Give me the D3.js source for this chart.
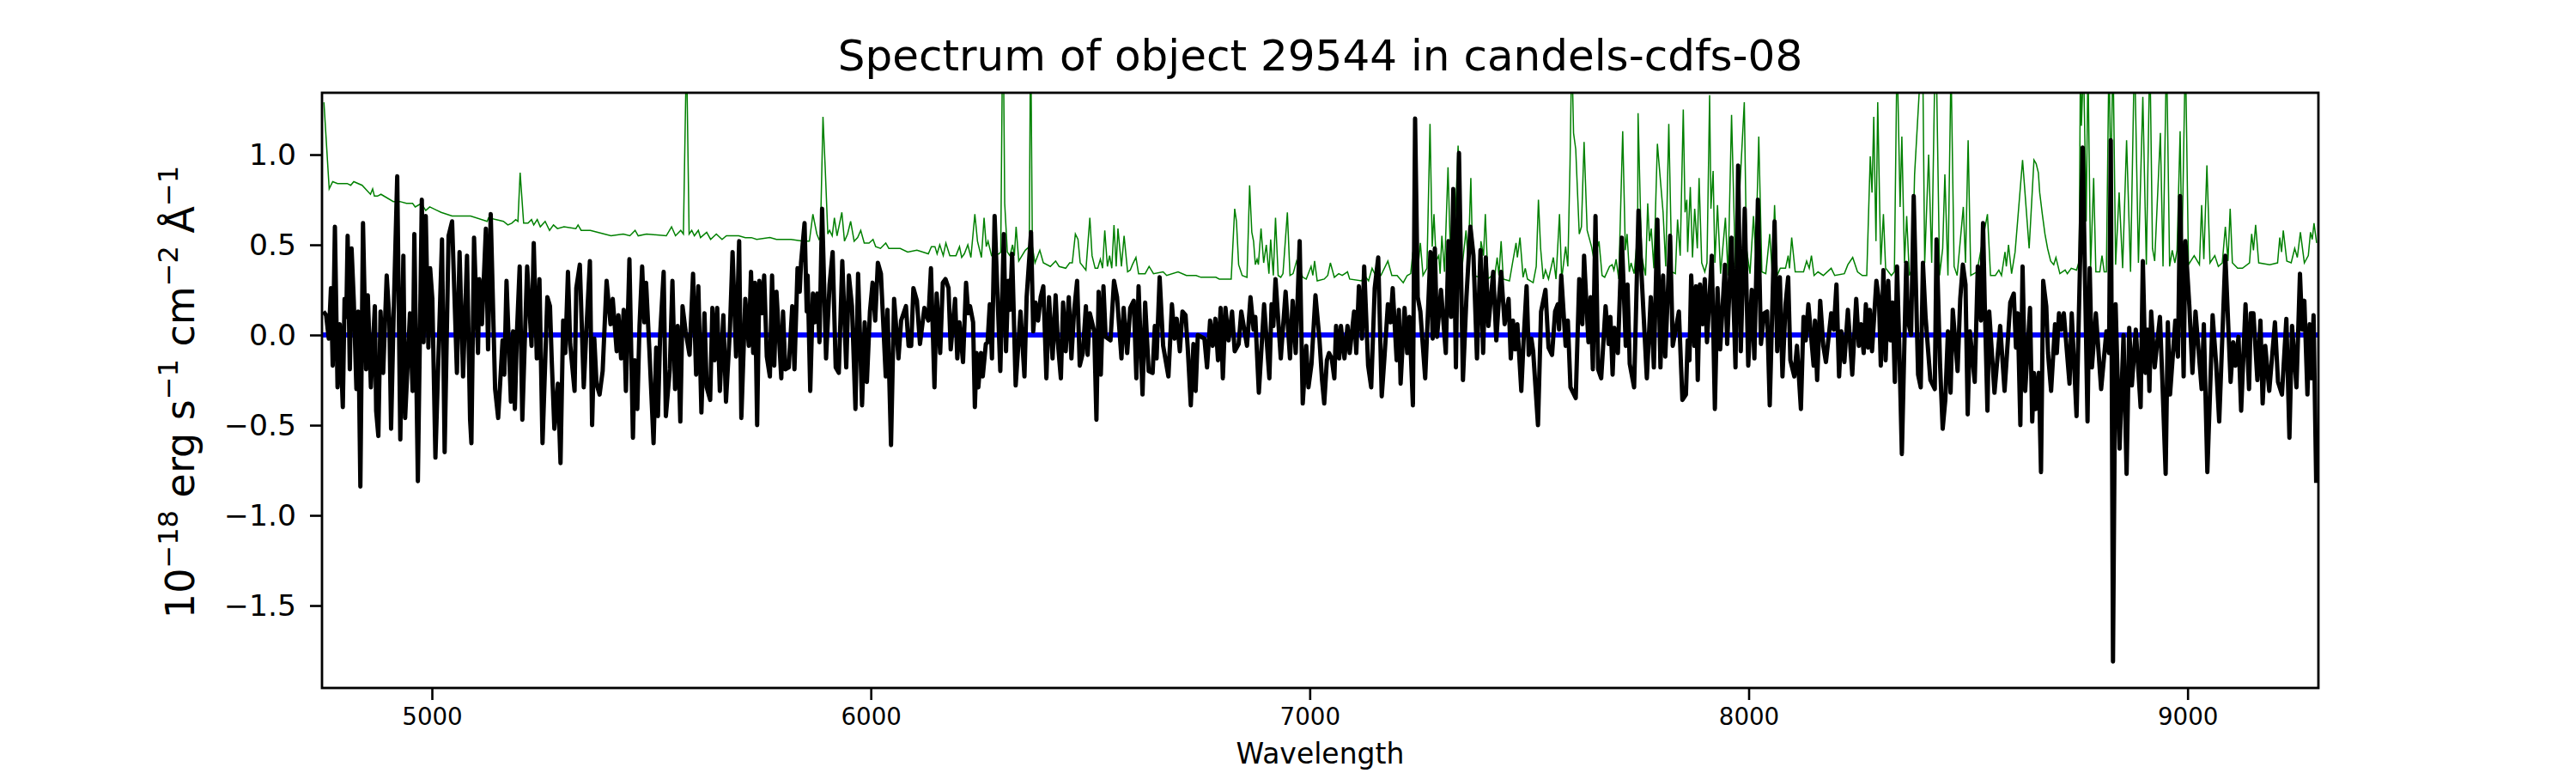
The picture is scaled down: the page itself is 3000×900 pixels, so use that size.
<!DOCTYPE html>
<html>
<head>
<meta charset="utf-8">
<script src="https://cdn.jsdelivr.net/npm/d3@7"></script>
<style>
  html, body { margin: 0; background: #fff; overflow: hidden; }
  text { font-family: "DejaVu Sans", sans-serif; fill: #000; }
</style>
</head>
<body>
<svg width="3000" height="900"></svg>
<script>
/* Data: [wavelength, flux] */
const xTicks = [5000, 6000, 7000, 8000, 9000];
const yTicks = [1.0, 0.5, 0.0, -0.5, -1.0, -1.5];
const xDomain = [4749.6, 9298];
const yDomain = [-1.957, 1.343];
const titleText = 'Spectrum of object 29544 in candels-cdfs-08';
const xLabelText = 'Wavelength';

const zeroPoints = [[4750, 0], [9298, 0]];

const fluxPoints = [
  [4753,.13],[4759,.11],[4765,-.02],[4770,.26],[4774,-.17],[4779,.60],[4785,-.29],[4790,.06],[4797,-.40],[4801,.20],[4805,.10],[4808,.55],[4813,-.19],[4817,.48],[4822,.19],[4828,-.30],[4832,.13],[4837,-.84],[4843,.62],[4850,-.19],[4854,.22],[4861,-.29],[4870,.16],[4873,-.42],[4878,-.56],[4883,.13],[4889,-.21],[4897,.33],[4903,.09],[4907,-.52],[4913,.13],[4921,.88],[4928,-.58],[4935,.44],[4939,-.46],[4950,.12],[4956,-.31],[4960,.56],[4968,-.81],[4977,.75],[4981,-.04],[4986,.66],[4992,-.07],[4996,.37],
  [5001,.20],[5008,-.68],[5023,.53],[5029,-.65],[5038,.55],[5046,.63],[5057,-.21],[5063,.46],[5071,-.23],[5080,.44],[5087,-.47],[5090,-.60],[5096,.54],[5105,-.10],[5108,.31],[5114,.06],[5123,.59],[5128,-.08],[5134,.67],[5144,-.30],[5151,-.46],[5161,-.03],[5165,-.22],[5170,.30],[5180,-.37],[5185,.02],[5189,-.41],[5194,.03],[5200,.38],[5206,-.47],[5217,.38],[5227,-.06],[5232,.51],[5239,-.13],[5245,.31],[5252,-.60],[5263,.21],[5269,.16],[5273,-.14],[5279,-.52],[5287,-.27],[5293,-.71],[5299,.08],[5304,-.10],[5310,.35],[5315,-.05],[5325,-.31],[5329,.26],[5337,.39],[5346,-.29],[5352,.03],[5360,.41],[5365,-.50],[5370,-.02],[5375,-.27],[5382,-.33],[5389,-.20],[5398,.30],[5407,.06],[5412,.20],[5421,-.09],[5425,.11],[5431,-.13],[5437,.14],[5442,-.31],[5450,.42],[5458,-.57],[5462,-.14],[5468,-.41],[5473,.05],[5479,.38],[5484,.07],[5488,.29],[5496,-.11],
  [5505,-.60],[5511,-.07],[5515,-.45],[5520,0],[5528,.35],[5533,-.45],[5542,-.19],[5548,.30],[5554,-.30],[5560,.05],[5566,-.48],[5571,.16],[5578,.02],[5587,-.11],[5595,.34],[5602,-.22],[5607,.27],[5614,-.43],[5621,.12],[5626,-.29],[5634,-.36],[5639,.15],[5644,-.14],[5650,.15],[5656,-.31],[5664,.11],[5670,-.37],[5679,.03],[5685,.46],[5693,-.12],[5700,.52],[5705,-.46],[5714,.20],[5722,-.06],[5727,.35],[5732,-.10],[5736,.29],[5741,-.50],[5746,.30],[5752,.12],[5757,.33],[5763,-.12],[5770,-.23],[5775,.33],[5780,-.17],[5785,.24],[5796,-.24],[5800,.13],[5805,-.19],[5813,-.18],[5821,.16],[5826,-.19],[5833,.37],[5838,.24],[5841,.40],[5849,.62],[5854,.13],[5856,.33],[5862,-.31],[5868,.23],[5872,.07],[5878,.23],[5883,-.04],[5889,.70],[5898,-.13],[5906,.28],[5913,.46],
  [5920,-.18],[5927,-.21],[5935,.41],[5944,-.18],[5950,.33],[5957,.16],[5965,-.41],[5971,.34],[5980,-.39],[5986,.07],[5991,-.26],[5998,.13],[6004,.29],[6010,.08],[6016,.40],[6023,.34],[6028,.08],[6034,-.23],[6038,.14],[6046,-.61],[6053,.20],[6063,-.13],[6069,.08],[6080,.16],[6086,-.06],[6092,-.06],[6097,.26],[6105,.19],[6112,-.05],[6122,.15],[6131,.08],[6137,.37],[6145,-.29],[6150,.23],[6158,-.10],[6164,.29],[6170,.31],[6177,.26],[6182,-.08],[6192,.20],[6197,-.13],[6202,.07],[6210,-.15],[6217,.29],[6222,.12],[6226,.16],[6233,.07],[6237,-.40],[6241,-.10],[6245,-.29],[6251,-.10],[6255,-.23],[6262,-.05],[6266,-.04],[6271,.17],[6276,-.13],[6282,.66],[6295,-.20],[6303,.56],[6308,-.09],[6313,.30],[6317,.14],[6322,.45],[6330,-.28],[6341,.13],[6350,-.23],[6355,.21],[6365,.57],[6370,.02],[6375,.18],[6381,.08],[6387,.21],[6393,.27],
  [6400,-.24],[6406,.21],[6414,-.13],[6421,.22],[6426,-.04],[6433,-.24],[6438,.18],[6444,-.09],[6451,.21],[6457,-.13],[6463,.13],[6470,.30],[6476,-.17],[6483,-.10],[6490,.16],[6494,-.11],[6499,.12],[6509,.02],[6514,-.47],[6519,.24],[6524,-.22],[6530,.27],[6535,-.01],[6546,-.03],[6554,.30],[6561,.21],[6571,-.13],[6576,.15],[6584,-.10],[6591,.15],[6599,.19],[6605,-.24],[6610,.27],[6619,-.33],[6625,.18],[6633,-.20],[6642,-.21],[6647,.05],[6651,-.13],[6658,.32],[6666,-.06],[6678,-.23],[6686,.17],[6692,-.02],[6697,.09],[6704,-.09],[6710,.13],[6717,.11],[6722,-.07],[6729,-.39],[6735,-.05],[6740,-.31],[6745,0],[6760,-.02],[6766,-.18],[6773,.08],[6779,-.06],[6785,.09],[6791,-.14],[6797,.15],[6802,-.24],[6808,.15],[6815,-.03],[6823,.13],[6829,-.09],[6838,-.05],[6844,.13],[6857,-.06],[6865,.21],[6872,.03],[6876,.10],[6884,-.32],[6896,.17],[6908,-.24],[6913,.17],[6917,.05],[6922,.31],[6934,-.13],[6945,.24],[6955,-.13],[6961,.19],[6968,-.10],[6977,.52],[6984,-.38],[6992,-.06],[6997,-.29],
  [7004,-.16],[7013,.22],[7022,-.02],[7028,-.25],[7033,-.38],[7039,-.14],[7044,-.10],[7050,-.13],[7056,-.24],[7060,.05],[7067,-.13],[7071,.05],[7079,-.13],[7086,.05],[7091,-.10],[7101,.13],[7106,-.10],[7112,.27],[7119,-.02],[7124,.38],[7133,-.17],[7140,-.29],[7148,.26],[7156,.43],[7164,-.34],[7170,-.13],[7178,.17],[7184,.07],[7189,.26],[7198,-.14],[7203,.14],[7207,-.27],[7216,.15],[7222,-.10],[7227,.10],[7235,-.39],[7240,1.20],[7246,.21],[7252,.13],[7263,-.24],[7275,.46],[7280,-.02],[7285,.48],[7290,-.01],[7299,.25],[7310,-.10],[7316,.52],[7322,.10],[7327,.81],[7333,-.18],[7340,1.01],[7349,-.25],[7357,.21],[7366,.60],[7373,.44],[7381,-.13],[7389,.47],[7395,-.10],[7401,.43],[7407,.05],[7418,.35],[7425,-.03],[7431,.20],[7436,.35],[7444,.06],[7453,.20],[7458,-.13],[7463,.08],[7468,-.08],[7473,.06],[7482,-.31],[7487,-.04],[7494,.27],[7499,-.11],
  [7505,-.02],[7509,-.09],[7520,-.50],[7527,.13],[7537,.25],[7544,-.07],[7552,-.11],[7559,.13],[7565,.17],[7568,.03],[7573,.33],[7583,-.06],[7588,.08],[7594,-.29],[7606,-.35],[7614,.31],[7621,.06],[7625,.44],[7630,.19],[7635,-.04],[7640,.21],[7645,-.19],[7651,.66],[7657,-.19],[7664,-.24],[7674,.16],[7681,-.05],[7685,.10],[7690,-.22],[7694,.04],[7702,-.10],[7711,.54],[7720,-.06],[7724,.28],[7729,-.16],[7739,-.29],[7749,.69],[7756,.33],[7768,-.24],[7777,.21],[7784,-.18],[7792,.64],[7799,-.18],[7805,.33],[7810,-.12],[7821,.55],[7827,-.06],[7841,.13],[7849,-.36],[7857,-.33],[7861,-.03],[7865,-.14],[7869,.33],[7876,-.06],[7880,.27],[7884,-.25],[7889,.28],[7895,.06],[7900,.31],[7905,-.04],[7916,.44],[7923,-.41],[7929,.26],[7935,-.08],[7946,.39],[7951,-.05],[7961,.54],[7970,-.18],[7976,.94],[7982,-.09],[7991,.70],[7999,-.17],
  [8007,.25],[8013,-.13],[8021,.75],[8028,-.05],[8035,.12],[8042,.13],[8048,-.39],[8059,.63],[8065,-.09],[8071,.32],[8077,-.23],[8084,.17],[8090,.32],[8095,-.14],[8104,-.23],[8110,-.06],[8119,-.41],[8125,.10],[8130,-.03],[8136,.17],[8148,-.17],[8151,.08],[8156,-.25],[8163,.19],[8170,-.06],[8176,-.15],[8188,.12],[8194,.03],[8200,.28],[8206,-.23],[8211,.02],[8218,-.15],[8226,.14],[8236,-.22],[8245,.20],[8251,-.06],[8256,.06],[8262,-.10],[8267,.17],[8272,-.07],[8276,.14],[8281,-.09],[8291,.30],[8297,.19],[8301,-.17],[8307,.36],[8312,-.14],[8318,.30],[8323,-.03],[8328,.18],[8333,-.26],[8338,.38],[8343,-.05],[8349,-.66],[8359,.40],[8363,.08],[8370,0],[8376,.77],[8386,-.22],[8392,-.29],[8397,.40],[8403,.10],[8414,-.25],[8424,-.30],[8428,.53],[8436,-.16],[8442,-.52],[8448,-.36],[8454,.02],[8460,-.32],[8465,.14],[8476,-.20],[8482,.20],[8488,.39],[8494,.28],[8499,-.44],
  [8504,.02],[8515,-.26],[8522,.38],[8529,.08],[8534,.62],[8538,.16],[8544,-.42],[8548,.13],[8560,-.32],[8573,.05],[8583,-.31],[8596,.18],[8604,.23],[8609,-.07],[8613,.12],[8619,-.50],[8624,.38],[8630,-.31],[8641,.15],[8646,-.48],[8650,-.21],[8654,-.41],[8661,-.21],[8666,-.76],[8671,.30],[8678,.16],[8682,-.10],[8689,-.31],[8698,.06],[8702,-.10],[8707,.12],[8712,.03],[8718,.12],[8731,-.27],[8736,.12],[8747,-.45],[8761,1.04],[8772,-.48],[8777,.37],[8782,-.18],[8791,.12],[8803,-.30],[8815,.02],[8821,-.10],[8825,1.08],[8830,-1.81],[8836,.17],[8845,-.63],[8854,0],[8861,-.77],[8867,.04],[8873,-.28],[8882,.03],[8893,-.40],[8898,.41],[8904,-.21],[8909,.03],[8913,-.31],[8917,.13],[8925,-.18],[8937,.10],[8942,-.22],[8950,-.77],[8955,.07],[8960,-.33],[8972,.08],[8978,-.12],[8983,.77],[8991,-.23],[8995,.52],
  [9004,.16],[9011,-.21],[9018,.13],[9032,-.30],[9037,.06],[9045,-.76],[9057,.11],[9065,-.16],[9072,-.48],[9086,.44],[9098,-.26],[9104,-.04],[9109,-.17],[9116,-.01],[9122,-.42],[9132,.17],[9140,-.30],[9144,.12],[9150,.12],[9159,-.25],[9166,.08],[9171,-.38],[9177,-.06],[9186,-.31],[9199,.07],[9206,-.26],[9215,-.33],[9225,.09],[9232,-.57],[9238,.05],[9248,-.29],[9256,.34],[9261,.03],[9266,.19],[9273,-.33],[9278,.06],[9282,-.24],[9287,.11],[9293,-.82]
];

const errorPoints = [
  [4754,1.29],[4766,.81],[4774,.85],[4785,.84],[4796,.84],[4807,.84],[4815,.83],[4822,.85],[4841,.83],[4860,.78],[4865,.81],[4869,.77],[4876,.77],[4884,.78],[4912,.74],[4927,.74],[4942,.73],[4956,.73],[4962,.71],[4976,.73],[4986,.69],[4995,.71],
  [5021,.68],[5046,.66],[5069,.66],[5088,.66],[5126,.63],[5129,.65],[5163,.63],[5173,.61],[5182,.62],[5191,.64],[5196,.63],[5201,.90],[5209,.62],[5219,.62],[5227,.64],[5232,.61],[5240,.64],[5247,.60],[5258,.63],[5268,.58],[5277,.61],[5286,.59],[5301,.60],[5328,.59],[5333,.61],[5340,.58],[5361,.58],[5376,.57],[5408,.55],[5436,.56],[5451,.55],[5463,.58],[5470,.55],[5489,.56],
  [5534,.55],[5546,.60],[5555,.55],[5567,.58],[5573,.56],[5580,1.59],[5586,.56],[5592,.58],[5598,.55],[5607,.58],[5612,.54],[5626,.57],[5635,.53],[5648,.56],[5661,.53],[5671,.55],[5699,.55],[5714,.54],[5728,.54],[5740,.53],[5770,.54],[5785,.53],[5792,.53],[5818,.53],[5845,.52],[5860,.52],[5868,.67],[5877,.56],[5882,.53],[5885,.54],[5891,1.21],[5896,.93],[5902,.56],[5906,.58],[5912,.55],
  [5917,.65],[5923,.55],[5934,.68],[5940,.52],[5947,.56],[5954,.63],[5962,.52],[5970,.54],[5977,.58],[5985,.51],[5996,.51],[6005,.53],[6011,.49],[6022,.48],[6034,.51],[6041,.48],[6056,.48],[6067,.48],[6084,.46],[6105,.47],[6131,.45],[6138,.49],[6146,.49],[6151,.45],[6157,.50],[6165,.44],[6171,.51],[6180,.44],[6194,.44],[6202,.49],[6207,.43],[6213,.45],[6221,.50],[6228,.43],[6237,.67],[6243,.52],[6252,.43],[6258,.65],[6263,.49],[6267,.52],[6275,.44],[6292,.45],[6296,.46],[6301,1.9],[6305,.73],[6311,.46],[6317,.44],[6323,.50],[6327,.44],[6331,.60],[6337,.41],[6352,.47],[6361,.49],[6364,1.75],[6368,.49],[6374,.40],[6385,.47],[6393,.40],
  [6409,.38],[6421,.41],[6429,.38],[6444,.37],[6453,.40],[6459,.40],[6466,.56],[6472,.53],[6477,.40],[6490,.36],[6499,.65],[6504,.44],[6511,.37],[6517,.37],[6523,.42],[6528,.37],[6533,.58],[6539,.38],[6544,.44],[6549,.37],[6554,.61],[6559,.38],[6563,.59],[6571,.38],[6577,.55],[6585,.35],[6591,.36],[6596,.39],[6604,.43],[6610,.34],[6625,.34],[6634,.38],[6644,.34],[6666,.35],[6674,.33],[6700,.35],[6719,.33],[6741,.33],[6752,.32],[6786,.32],[6794,.31],[6821,.31],[6829,.70],[6833,.63],[6838,.39],[6846,.33],[6857,.32],[6863,.83],[6868,.57],[6872,.52],[6876,.39],[6880,.42],[6883,.39],[6889,.59],[6895,.40],[6901,.50],[6907,.34],[6911,.53],[6917,.33],[6922,.65],[6928,.33],[6934,.32],[6939,.34],[6949,.68],[6955,.33],[6962,.34],[6970,.41],[6984,.32],[6992,.31],
  [7003,.38],[7007,.33],[7011,.41],[7017,.30],[7033,.31],[7041,.33],[7047,.40],[7056,.32],[7066,.34],[7074,.33],[7086,.35],[7091,.31],[7118,.30],[7125,.33],[7134,.30],[7142,.37],[7150,.33],[7162,.33],[7178,.41],[7187,.33],[7199,.33],[7213,.29],[7222,.33],[7230,.34],[7235,.46],[7245,.33],[7252,.51],[7258,.33],[7267,.37],[7274,1.17],[7279,.49],[7283,.67],[7288,.41],[7294,.44],[7297,.34],[7301,.55],[7307,.35],[7315,.93],[7321,.40],[7327,.35],[7338,1.05],[7346,.35],[7356,.58],[7361,.40],[7367,.87],[7372,.33],[7387,.32],[7390,.52],[7396,.44],[7400,.67],[7406,.31],[7415,.33],[7421,.32],[7427,.43],[7431,.33],[7436,.52],[7441,.31],[7455,.30],[7462,.40],[7470,.51],[7473,.43],[7479,.54],[7486,.32],[7491,.37],[7496,.31],
  [7509,.29],[7516,.38],[7521,.75],[7526,.48],[7532,.31],[7537,.36],[7544,.31],[7555,.43],[7561,.31],[7569,.67],[7574,.31],[7583,.49],[7588,.38],[7593,.95],[7597,1.59],[7601,1.12],[7606,1.03],[7614,.56],[7619,.60],[7625,1.07],[7632,.58],[7642,.49],[7648,.41],[7659,.52],[7666,.33],[7672,.32],[7683,.38],[7689,.39],[7693,.36],[7698,.42],[7704,.31],[7713,1.13],[7719,.47],[7723,.56],[7728,.35],[7732,.40],[7739,.34],[7747,.56],[7748,1.23],[7756,.44],[7765,.33],[7770,.73],[7774,.52],[7778,.59],[7784,.37],[7792,1.06],[7805,.68],[7811,.38],[7818,1.17],[7825,.35],[7833,.34],[7838,.64],[7844,.44],[7851,1.25],[7855,.68],[7859,.75],[7861,.46],[7867,.82],[7872,.43],[7877,.70],[7883,.48],[7887,.87],[7893,.40],[7900,.35],[7905,.40],[7911,1.33],[7914,.70],[7919,.91],[7923,.40],[7929,.72],[7936,.34],[7947,.65],[7953,.33],[7961,1.22],[7970,.35],[7990,1.29],[7995,.48],
  [8003,.34],[8011,.66],[8016,.44],[8023,1.10],[8030,.35],[8039,.34],[8048,.56],[8054,.33],[8059,.72],[8065,.33],[8072,.37],[8084,.37],[8090,.44],[8093,.37],[8098,.54],[8106,.35],[8125,.35],[8132,.41],[8138,.37],[8143,.44],[8149,.33],[8158,.35],[8170,.33],[8188,.37],[8196,.33],[8218,.34],[8226,.39],[8237,.43],[8248,.35],[8259,.33],[8269,.33],[8277,.99],[8281,.79],[8285,1.21],[8290,.52],[8294,1.29],[8301,.39],[8307,.67],[8312,.37],[8325,.33],[8332,.35],[8338,1.59],[8345,.71],[8349,1.10],[8355,.40],[8360,.66],[8366,.33],[8373,.37],[8378,.89],[8396,1.67],[8401,.40],[8410,1.00],[8417,.40],[8426,1.75],[8435,.33],[8442,.48],[8447,.89],[8454,.33],[8461,1.51],[8468,.38],[8475,.33],[8489,.71],[8494,.40],
  [8500,1.08],[8506,.33],[8520,.35],[8544,.67],[8551,.33],[8562,.33],[8570,.36],[8576,.33],[8584,.46],[8587,.38],[8592,.50],[8599,.34],[8607,.46],[8624,.97],[8639,.48],[8650,.97],[8655,.95],[8660,.90],[8663,.79],[8669,.67],[8675,.56],[8681,.48],[8688,.41],[8695,.39],[8700,.43],[8709,.34],[8721,.36],[8726,.34],[8735,.37],[8747,.36],[8753,.41],[8756,1.59],[8758,1.16],[8763,1.51],[8769,.63],[8773,1.51],[8779,.37],[8786,.87],[8791,.35],[8800,.35],[8805,.44],[8810,.35],[8815,.35],[8821,1.59],[8825,.79],[8830,1.59],[8836,.39],[8844,.79],[8852,.37],[8861,1.08],[8870,.35],[8879,1.59],[8888,.40],[8898,1.32],[8906,.39],[8914,1.59],[8920,.48],[8925,.41],[8938,1.12],[8944,.38],[8952,1.59],[8959,.38],[8965,.47],[8971,.40],[8976,.47],[8983,1.13],[8987,.44],[8995,1.59],
  [9002,.39],[9015,.44],[9027,.39],[9032,.72],[9037,.42],[9044,.94],[9051,.40],[9062,.44],[9070,.38],[9079,.40],[9086,.60],[9092,.41],[9097,.70],[9102,.40],[9114,.37],[9125,.37],[9141,.40],[9146,.56],[9150,.47],[9155,.61],[9162,.40],[9187,.39],[9205,.40],[9210,.54],[9214,.46],[9218,.58],[9226,.41],[9236,.40],[9244,.48],[9250,.43],[9257,.57],[9266,.40],[9275,.44],[9280,.57],[9284,.53],[9288,.62],[9294,.51]
];

/* SVG */
const svg = d3.select('svg');
const margin = { left: 375, right: 300, top: 108, bottom: 99 };
const plotW = 3000 - margin.left - margin.right;
const plotH = 900 - margin.top - margin.bottom;

/* Scales */
const x = d3.scaleLinear().domain(xDomain).range([0, plotW]);
const y = d3.scaleLinear().domain(yDomain).range([plotH, 0]);

const plot = svg.append('g').attr('transform', `translate(${margin.left},${margin.top})`);

svg.append('defs').append('clipPath').attr('id', 'plot-clip')
  .append('rect').attr('width', plotW).attr('height', plotH);

/* Lines */
const line = d3.line().x(d => x(d[0])).y(d => y(d[1]));
const lines = plot.append('g').attr('clip-path', 'url(#plot-clip)');

lines.append('path').datum(errorPoints)
  .attr('d', line).attr('fill', 'none')
  .attr('stroke', '#008000').attr('stroke-width', 1.5);

lines.append('path').datum(zeroPoints)
  .attr('d', line).attr('fill', 'none')
  .attr('stroke', '#0000ff').attr('stroke-width', 6);

lines.append('path').datum(fluxPoints)
  .attr('d', line).attr('fill', 'none')
  .attr('stroke', '#000').attr('stroke-width', 5)
  .attr('stroke-linejoin', 'round');

/* Axes */
const xAxis = plot.append('g').attr('transform', `translate(0,${plotH})`)
  .call(d3.axisBottom(x).tickValues(xTicks).tickFormat(d3.format('d')).tickSize(14).tickPadding(9));
const yAxis = plot.append('g')
  .call(d3.axisLeft(y).tickValues(yTicks).tickFormat(d3.format('.1f')).tickSize(14).tickPadding(16));

xAxis.select('.domain').remove();
yAxis.select('.domain').remove();
xAxis.selectAll('line').attr('stroke', '#000').attr('stroke-width', 2.6);
yAxis.selectAll('line').attr('stroke', '#000').attr('stroke-width', 2.6);
xAxis.selectAll('text').style('font-family', '"DejaVu Sans"').style('font-size', '27.7px');
yAxis.selectAll('text').style('font-family', '"DejaVu Sans"').style('font-size', '34.6px');

plot.append('rect')
  .attr('width', plotW).attr('height', plotH)
  .attr('fill', 'none').attr('stroke', '#000').attr('stroke-width', 2.8);

/* Labels */
svg.append('text')
  .attr('x', margin.left + plotW / 2).attr('y', 82)
  .attr('text-anchor', 'middle').style('font-size', '50px')
  .text(titleText);

svg.append('text')
  .attr('x', margin.left + plotW / 2).attr('y', 889)
  .attr('text-anchor', 'middle').style('font-size', '33px')
  .text(xLabelText);

const yLabel = svg.append('text')
  .attr('transform', `translate(226,${margin.top + plotH / 2 + 2}) rotate(-90)`)
  .attr('text-anchor', 'middle').style('font-size', '46px');
const yParts = [['10', false], ['\u221218', true], [' erg s', false], ['\u22121', true], [' cm', false], ['\u22122', true], [' \u00c5', false], ['\u22121', true]];
yParts.forEach(([t, sup], i) => {
  const prevSup = i > 0 && yParts[i - 1][1];
  yLabel.append('tspan')
    .attr('dy', sup ? -19 : (prevSup ? 19 : 0))
    .style('font-size', sup ? '32px' : '46px')
    .text(t);
});
</script>
</body>
</html>
